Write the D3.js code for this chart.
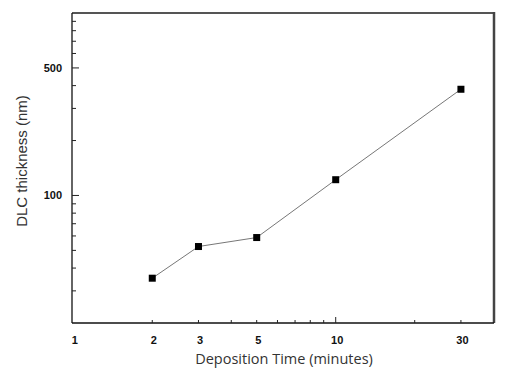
<!DOCTYPE html>
<html>
<head>
<meta charset="utf-8">
<script src="https://cdn.jsdelivr.net/npm/d3@7"></script>
<style>
  html, body { margin: 0; padding: 0; background: #fff; }
  svg { display: block; }
  .tick-label { font-family: Arial, "Liberation Sans", sans-serif; font-weight: bold; font-size: 11px; fill: #111; }
  .x-title { font-family: "Open Sans", "DejaVu Sans", sans-serif; font-size: 14.5px; fill: #333; }
  .y-title { font-family: Arial, "Liberation Sans", sans-serif; font-size: 15px; fill: #333; }
</style>
</head>
<body>
<svg id="chart" width="514" height="374"></svg>
<script>
// Deposition time (min) vs DLC thickness (nm), log-log
const times      = [2, 3, 5, 10, 30];
const thickness  = [35.2, 52.5, 58.8, 122, 382];
const xLabels    = [1, 2, 3, 5, 10, 30];
const xMinor     = [2, 3, 4, 5, 6, 7, 8, 9, 20, 30];
const xMajor     = [10];
const yLabels    = [100, 500];
const yMinor     = [30, 40, 50, 60, 70, 80, 90, 200, 300, 400, 600, 700, 800, 900];
const yMajor     = [100, 500];

const svg = d3.select('#chart');
const M = { l: 72, t: 13, r: 494, b: 323 };

const x = d3.scaleLog().domain([0.989, 40.1]).range([M.l, M.r]);
const y = d3.scaleLog().domain([20, 1000]).range([M.b, M.t]);

// frame: top + right darker gray, left + bottom black
svg.append('line').attr('x1', M.l).attr('x2', M.r + 1).attr('y1', M.t).attr('y2', M.t)
  .attr('stroke', '#555').attr('stroke-width', 2);
svg.append('line').attr('x1', M.r).attr('x2', M.r).attr('y1', M.t - 1).attr('y2', M.b)
  .attr('stroke', '#444').attr('stroke-width', 2.5);
svg.append('line').attr('x1', M.l).attr('x2', M.l).attr('y1', M.t).attr('y2', M.b)
  .attr('stroke', '#111').attr('stroke-width', 1.3);
svg.append('line').attr('x1', M.l).attr('x2', M.r).attr('y1', M.b).attr('y2', M.b)
  .attr('stroke', '#111').attr('stroke-width', 1.3);

// x ticks (inward)
svg.append('g').selectAll('line').data(xMinor).join('line')
  .attr('x1', d => x(d)).attr('x2', d => x(d))
  .attr('y1', M.b).attr('y2', M.b - 3)
  .attr('stroke', '#222');
svg.append('g').selectAll('line').data(xMajor).join('line')
  .attr('x1', d => x(d)).attr('x2', d => x(d))
  .attr('y1', M.b).attr('y2', M.b - 6)
  .attr('stroke', '#222');
svg.append('g').selectAll('text').data(xLabels).join('text')
  .attr('class', 'tick-label')
  .attr('x', d => x(d) + 1.5).attr('y', 344)
  .attr('text-anchor', 'middle')
  .text(d => d);

// y ticks (inward)
svg.append('g').selectAll('line').data(yMinor).join('line')
  .attr('x1', M.l).attr('x2', M.l + 4)
  .attr('y1', d => y(d)).attr('y2', d => y(d))
  .attr('stroke', '#222');
svg.append('g').selectAll('line').data(yMajor).join('line')
  .attr('x1', M.l).attr('x2', M.l + 7)
  .attr('y1', d => y(d)).attr('y2', d => y(d))
  .attr('stroke', '#222');
svg.append('g').selectAll('text').data(yLabels).join('text')
  .attr('class', 'tick-label')
  .attr('x', 62).attr('y', d => y(d) + 4)
  .attr('text-anchor', 'end')
  .text(d => d);

// titles
svg.append('text').attr('class', 'x-title')
  .attr('x', 284).attr('y', 364).attr('text-anchor', 'middle')
  .text('Deposition Time (minutes)');
svg.append('text').attr('class', 'y-title')
  .attr('transform', 'translate(27,161) rotate(-90)').attr('text-anchor', 'middle')
  .text('DLC thickness (nm)');

// series
const pts = times.map((t, i) => [t, thickness[i]]);
svg.append('path').datum(pts)
  .attr('fill', 'none').attr('stroke', '#777').attr('stroke-width', 1)
  .attr('d', d3.line().x(d => x(d[0])).y(d => y(d[1])));
const S = 7;
svg.append('g').selectAll('rect').data(pts).join('rect')
  .attr('x', d => x(d[0]) - S / 2).attr('y', d => y(d[1]) - S / 2)
  .attr('width', S).attr('height', S).attr('fill', '#000');
</script>
</body>
</html>
